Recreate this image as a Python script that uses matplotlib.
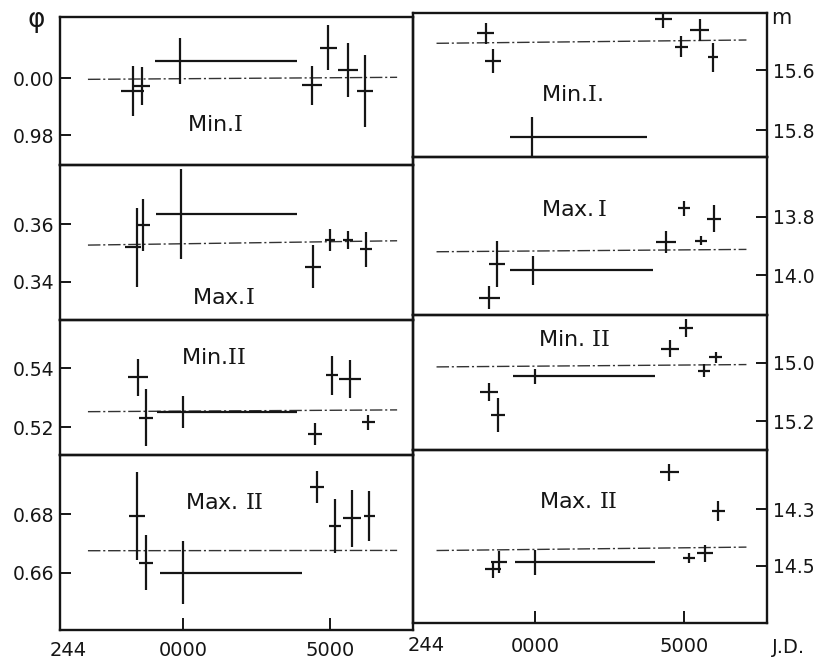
import matplotlib.pyplot as plt

# x axis: J.D. 244xxxx, values given as the last four digits (offset from 2440000)
jd_ticks = [0, 5000]
jd_ticklabels = ['0000', '5000']

# ---------------- left column: phase (phi) ----------------
# Min I
ph_min1_jd = [-1710, -1405, -100, 4400, 4940, 5620, 6190]
ph_min1 = [0.9955, 0.9972, 1.0060, 0.9975, 1.0107, 1.0028, 0.9955]
ph_min1_dy = [0.0088, 0.0067, 0.0081, 0.0068, 0.0079, 0.0094, 0.0125]
ph_min1_dxl = [380, 300, 850, 340, 280, 340, 260]
ph_min1_dxh = [380, 300, 3970, 340, 280, 340, 260]

# Max I
ph_max1_jd = [-1575, -1350, -70, 4430, 5000, 5620, 6220]
ph_max1 = [0.3519, 0.3597, 0.3634, 0.3452, 0.3545, 0.3545, 0.3512]
ph_max1_dy = [0.0137, 0.0091, 0.0157, 0.0075, 0.0038, 0.0030, 0.0061]
ph_max1_dxl = [380, 230, 860, 270, 170, 170, 210]
ph_max1_dxh = [150, 230, 3930, 270, 170, 170, 210]

# Min II
ph_min2_jd = [-1520, -1270, -10, 4490, 5060, 5680, 6300]
ph_min2 = [0.5369, 0.5233, 0.5251, 0.5177, 0.5377, 0.5363, 0.5217]
ph_min2_dy = [0.0064, 0.0096, 0.0055, 0.0038, 0.0066, 0.0065, 0.0025]
ph_min2_dxl = [340, 240, 885, 240, 200, 360, 230]
ph_min2_dxh = [340, 240, 3875, 240, 200, 360, 230]

# Max II
ph_max2_jd = [-1575, -1260, 10, 4570, 5170, 5740, 6340]
ph_max2 = [0.6794, 0.6634, 0.6600, 0.6893, 0.6759, 0.6785, 0.6794]
ph_max2_dy = [0.0150, 0.0094, 0.0108, 0.0054, 0.0091, 0.0098, 0.0085]
ph_max2_dxl = [270, 250, 790, 240, 200, 310, 200]
ph_max2_dxh = [270, 250, 4030, 240, 200, 310, 200]

# ---------------- right column: magnitude (m) ----------------
mg_min1_jd = [-1645, -1400, -80, 4310, 4920, 5540, 5980]
mg_min1 = [15.478, 15.570, 15.824, 15.431, 15.522, 15.467, 15.558]
mg_min1_dy = [0.034, 0.039, 0.068, 0.028, 0.036, 0.036, 0.047]
mg_min1_dxl = [290, 260, 760, 290, 230, 320, 180]
mg_min1_dxh = [290, 260, 3830, 290, 230, 320, 180]

mg_max1_jd = [-1535, -1285, -55, 4400, 5000, 5590, 6010]
mg_max1 = [14.077, 13.962, 13.983, 13.886, 13.771, 13.882, 13.806]
mg_max1_dy = [0.040, 0.078, 0.050, 0.038, 0.025, 0.015, 0.045]
mg_max1_dxl = [350, 270, 780, 320, 200, 200, 220]
mg_max1_dxh = [350, 270, 4030, 320, 200, 200, 220]

mg_min2_jd = [-1535, -1230, 0, 4530, 5070, 5670, 6075]
mg_min2 = [15.100, 15.179, 15.046, 14.951, 14.880, 15.027, 14.981]
mg_min2_dy = [0.030, 0.058, 0.026, 0.030, 0.030, 0.023, 0.018]
mg_min2_dxl = [300, 240, 730, 300, 250, 200, 220]
mg_min2_dxh = [300, 240, 4030, 300, 250, 200, 220]

mg_max2_jd = [-1400, -1200, 0, 4510, 5180, 5705, 6150]
mg_max2 = [14.513, 14.487, 14.487, 14.170, 14.473, 14.455, 14.307]
mg_max2_dy = [0.030, 0.040, 0.044, 0.030, 0.018, 0.030, 0.035]
mg_max2_dxl = [270, 270, 670, 320, 200, 270, 220]
mg_max2_dxh = [270, 270, 4030, 320, 200, 270, 220]

# mean (dash-dot) lines: start value, end value, x range
base_x_left = [-3230, 7280]
base_x_right = [-3300, 7100]
ph_base = [(0.99954, 1.00025), (0.3527, 0.3542), (0.5253, 0.5259), (0.6675, 0.6676)]
mg_base = [(15.511, 15.500), (13.920, 13.912), (15.014, 15.006), (14.446, 14.434)]

ph_ticks = [[0.98, 1.00], [0.34, 0.36], [0.52, 0.54], [0.66, 0.68]]
ph_ticklabels = [['0.98', '0.00'], ['0.34', '0.36'], ['0.52', '0.54'], ['0.66', '0.68']]
mg_ticks = [[15.6, 15.8], [13.8, 14.0], [15.0, 15.2], [14.3, 14.5]]
mg_ticklabels = [['15.6', '15.8'], ['13.8', '14.0'], ['15.0', '15.2'], ['14.3', '14.5']]

panel_names_left = [r'Min.$\mathrm{I}$', r'Max.$\mathrm{I}$', r'Min.$\mathrm{II}$', r'Max. $\mathrm{II}$']
panel_names_right = [r'Min.$\mathrm{I}$.', r'Max.$\,\mathrm{I}$', r'Min. $\mathrm{II}$', r'Max. $\mathrm{II}$']

left_data = [
    (ph_min1_jd, ph_min1, ph_min1_dy, ph_min1_dxl, ph_min1_dxh),
    (ph_max1_jd, ph_max1, ph_max1_dy, ph_max1_dxl, ph_max1_dxh),
    (ph_min2_jd, ph_min2, ph_min2_dy, ph_min2_dxl, ph_min2_dxh),
    (ph_max2_jd, ph_max2, ph_max2_dy, ph_max2_dxl, ph_max2_dxh),
]
right_data = [
    (mg_min1_jd, mg_min1, mg_min1_dy, mg_min1_dxl, mg_min1_dxh),
    (mg_max1_jd, mg_max1, mg_max1_dy, mg_max1_dxl, mg_max1_dxh),
    (mg_min2_jd, mg_min2, mg_min2_dy, mg_min2_dxl, mg_min2_dxh),
    (mg_max2_jd, mg_max2, mg_max2_dy, mg_max2_dxl, mg_max2_dxh),
]

# ---------------- layout (pixels of the 818x662 figure) ----------------
W, H = 818, 662
left_x = (60, 413)
right_x = (413, 767)
left_rows = [(17, 165), (165, 320), (320, 455), (455, 630)]
right_rows = [(13, 157), (157, 315), (315, 450), (450, 623)]
left_ylims = [(0.9695, 1.0214), (0.3267, 0.3805), (0.5106, 0.5564), (0.6405, 0.7001)]
right_ylims = [(15.89, 15.41), (14.137, 13.595), (15.299, 14.836), (14.702, 14.091)]
left_xlim = (-4180, 7820)
right_xlim = (-4090, 7790)
left_label_pos = [(215, 125), (223, 298), (213, 358), (224, 503)]
right_label_pos = [(572, 95), (574, 210), (574, 340), (578, 502)]

ink = '#151515'
plt.rcParams['font.family'] = ['DejaVu Sans']
plt.rcParams['mathtext.fontset'] = 'custom'
plt.rcParams['mathtext.rm'] = 'DejaVu Serif'

fig = plt.figure(figsize=(W / 100, H / 100), dpi=100)


def make_ax(xr, yr):
    return fig.add_axes([xr[0] / W, 1 - yr[1] / H, (xr[1] - xr[0]) / W, (yr[1] - yr[0]) / H])


def draw_panel(ax, data, base, base_x, xlim, ylim, ticks, ticklabels, side, bottom):
    jd, val, dy, dxl, dxh = data
    ax.plot(base_x, base, color='0.2', lw=1.0, ls=(0, (9, 2, 1.5, 2)))
    ax.errorbar(jd, val, yerr=dy, xerr=[dxl, dxh], fmt='none', ecolor=ink,
                elinewidth=1.6, capsize=0)
    ax.set_xlim(xlim)
    ax.set_ylim(ylim)
    ax.set_yticks(ticks)
    ax.set_yticklabels(ticklabels)
    for s in ax.spines.values():
        s.set_linewidth(1.7)
        s.set_color(ink)
    if side == 'right':
        ax.yaxis.tick_right()
    ax.tick_params(axis='y', direction='in', length=8, width=1.4, pad=4,
                   labelsize=13.5, colors=ink)
    if bottom:
        ax.set_xticks(jd_ticks)
        ax.set_xticklabels(jd_ticklabels)
        ax.tick_params(axis='x', direction='in', length=9, width=1.4,
                       pad=8 if side == 'left' else 10, labelsize=14, colors=ink)
    else:
        ax.set_xticks([])


for i in range(4):
    ax = make_ax(left_x, left_rows[i])
    draw_panel(ax, left_data[i], ph_base[i], base_x_left, left_xlim, left_ylims[i],
               ph_ticks[i], ph_ticklabels[i], 'left', i == 3)
    ax.set_zorder(2)
    ax.patch.set_alpha(0)
    if i == 3:
        ax.text(-0.03, -0.115, '244', transform=ax.transAxes, fontsize=14,
                color=ink, ha='left', va='center')

for i in range(4):
    ax = make_ax(right_x, right_rows[i])
    draw_panel(ax, right_data[i], mg_base[i], base_x_right, right_xlim, right_ylims[i],
               mg_ticks[i], mg_ticklabels[i], 'right', i == 3)
    ax.patch.set_alpha(0)
    if i == 3:
        ax.text(-0.015, -0.13, '244', transform=ax.transAxes, fontsize=14,
                color=ink, ha='left', va='center')
        ax.text(1.015, -0.14, 'J.D.', transform=ax.transAxes, fontsize=14,
                color=ink, ha='left', va='center')

for name, (px, py) in zip(panel_names_left, left_label_pos):
    fig.text(px / W, 1 - py / H, name, fontsize=16, color=ink, ha='center', va='center')
for name, (px, py) in zip(panel_names_right, right_label_pos):
    fig.text(px / W, 1 - py / H, name, fontsize=16, color=ink, ha='center', va='center')

fig.text(36 / W, 1 - 20 / H, 'φ', fontsize=19, color=ink, ha='center', va='center')
fig.text(781 / W, 1 - 18 / H, 'm', fontsize=15, color=ink, ha='center', va='center')

fig.savefig('out.png', dpi=100, facecolor='white')
